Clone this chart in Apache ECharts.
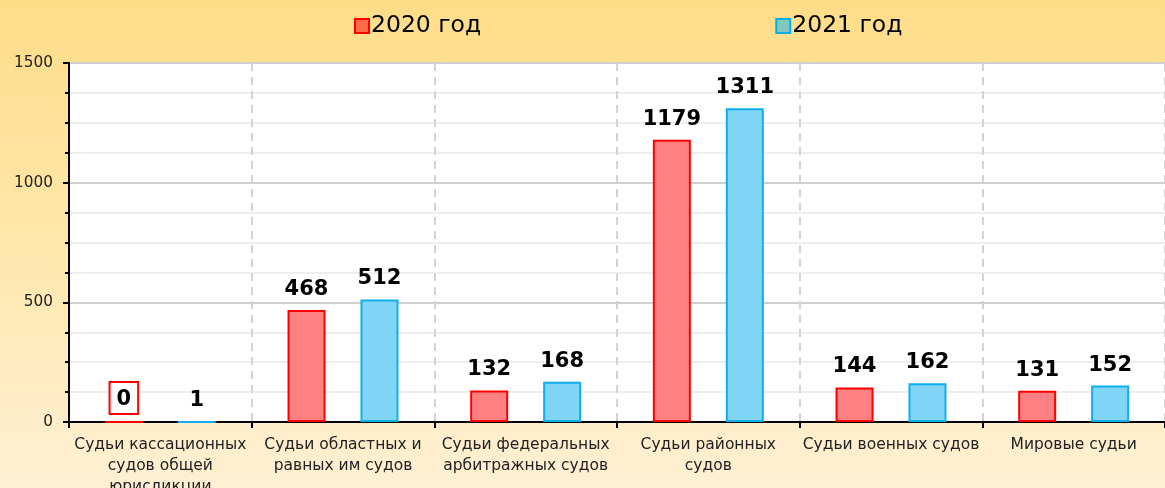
<!DOCTYPE html>
<html>
<head>
<meta charset="utf-8">
<script src="https://cdn.jsdelivr.net/npm/echarts@6/dist/echarts.min.js"></script>
<style>
  html, body { margin: 0; padding: 0; }
  #chart { width: 1165px; height: 488px; background: linear-gradient(180deg, #fedd88 0%, #ffe6a8 45%, #fff0d4 100%); }
</style>
</head>
<body>
<div id="chart"></div>
<script>
// Number of judges by court type
const categories = [
  'Судьи кассационных\nсудов общей\nюрисдикции',
  'Судьи областных и\nравных им судов',
  'Судьи федеральных\nарбитражных судов',
  'Судьи районных\nсудов',
  'Судьи военных судов',
  'Мировые судьи'
];
const seriesNames = ['2020 год', '2021 год'];
const values2020 = [0, 468, 132, 1179, 144, 131];
const values2021 = [1, 512, 168, 1311, 162, 152];
const yTicks = [0, 500, 1000, 1500];

const chart = echarts.init(document.getElementById('chart'), null, { renderer: 'canvas' });
const font = '"DejaVu Sans", Verdana, sans-serif';

function labelCfg() {
  return {
    show: true,
    position: 'top',
    distance: 10,
    fontFamily: font,
    fontWeight: 'bold',
    fontSize: 21,
    color: '#000'
  };
}

const data2020 = values2020.map((v, i) => i === 0
  ? { value: v, label: { borderColor: '#ff0000', borderWidth: 2, padding: [6, 6, 3, 6], backgroundColor: '#fff', distance: 8 } }
  : v);

chart.setOption({
  backgroundColor: 'transparent',
  animation: false,
  legend: {
    top: 9,
    left: 349,
    icon: 'rect',
    itemWidth: 14,
    itemHeight: 14,
    itemGap: 294,
    textStyle: { fontFamily: font, fontSize: 23.5, color: '#000', padding: [0, 0, 0, -3] },
    data: [
      { name: seriesNames[0], itemStyle: { color: '#ff6a48', borderColor: '#ff0000', borderWidth: 2 } },
      { name: seriesNames[1], itemStyle: { color: '#80c8c0', borderColor: '#00b0f0', borderWidth: 2 } }
    ]
  },
  grid: {
    left: 69, top: 63, right: 0, bottom: 66,
    containLabel: false,
    outerBoundsMode: 'none',
    show: true, backgroundColor: '#fff', borderWidth: 0
  },
  xAxis: {
    type: 'category',
    data: categories,
    boundaryGap: true,
    axisLine: { lineStyle: { color: '#000', width: 2 } },
    axisTick: { show: true, length: 6, lineStyle: { color: '#000', width: 2 } },
    splitLine: { show: true, lineStyle: { color: '#d4d4d4', width: 2, type: [8, 6] } },
    axisLabel: {
      interval: 0,
      margin: 12,
      lineHeight: 21,
      fontFamily: font,
      fontSize: 15.5,
      color: '#222'
    }
  },
  yAxis: {
    type: 'value',
    min: yTicks[0],
    max: yTicks[yTicks.length - 1],
    interval: 500,
    axisLine: { show: true, lineStyle: { color: '#000', width: 2 } },
    axisTick: { show: true, length: 6, lineStyle: { color: '#000', width: 2 } },
    minorTick: { show: true, splitNumber: 4, length: 4, lineStyle: { color: '#000', width: 2 } },
    splitLine: { show: true, lineStyle: { color: '#cfcfcf', width: 2 } },
    minorSplitLine: { show: true, lineStyle: { color: '#eeeeee', width: 2 } },
    axisLabel: { margin: 16, fontFamily: font, fontSize: 15.3, color: '#222', formatter: v => String(v) }
  },
  series: [
    {
      name: seriesNames[0],
      type: 'bar',
      data: data2020,
      barWidth: 38,
      barGap: '92%',
      itemStyle: { color: '#ff8080', borderColor: '#ff0000', borderWidth: 2 },
      label: labelCfg()
    },
    {
      name: seriesNames[1],
      type: 'bar',
      data: values2021,
      barWidth: 38,
      itemStyle: { color: '#80d5f7', borderColor: '#0db0ec', borderWidth: 2 },
      label: labelCfg()
    }
  ]
});
</script>
</body>
</html>
